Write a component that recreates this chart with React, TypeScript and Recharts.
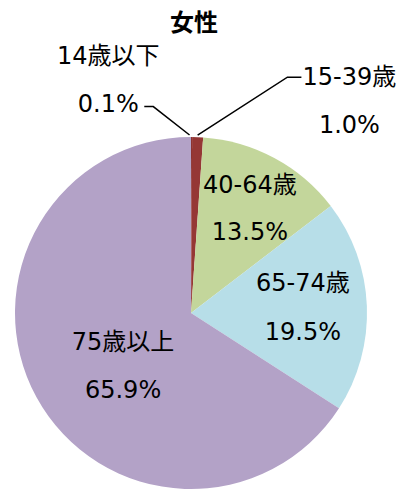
import { PieChart, Pie, Cell } from "recharts";

const ageGroups = ["14歳以下", "15-39歳", "40-64歳", "65-74歳", "75歳以上"];
const shares = [0.1, 1.0, 13.5, 19.5, 65.9];
const sliceColors = ["#8c3331", "#953735", "#c3d69b", "#b7dee8", "#b3a2c7"];

const data = ageGroups.map((name, i) => ({ name, value: shares[i] }));

// label centres, as fractions of the radius from the pie centre: [dx, dyName, dyValue]
const labelSpots = [
  [-0.47, -1.46, -1.19],
  [0.9, -1.34, -1.07],
  [0.335, -0.727, -0.46],
  [0.636, -0.17, 0.108],
  [-0.386, 0.165, 0.4375],
];

const FONT = "'DejaVu Sans', 'Noto Sans CJK JP', sans-serif";
const RAD = Math.PI / 180;

// eslint-disable-next-line @typescript-eslint/no-explicit-any
function renderLabel(props: any) {
  const { cx, cy, outerRadius, midAngle, index, name, value } = props;
  const [dx, dyN, dyV] = labelSpots[index];
  const x = cx + dx * outerRadius;
  const yName = cy + dyN * outerRadius;
  const yVal = cy + dyV * outerRadius;
  const tipX = cx + outerRadius * Math.cos(-midAngle * RAD);
  const tipY = cy + outerRadius * Math.sin(-midAngle * RAD);

  let leader = null;
  if (index === 0) {
    const sx = x + 36;
    const pts = `${sx},${yVal + 3} ${sx + 9},${yVal + 3} ${tipX - 2},${tipY - 2}`;
    leader = <polyline points={pts} fill="none" stroke="#000" strokeWidth={1.5} />;
  } else if (index === 1) {
    const sx = x - 48;
    const pts = `${sx},${yName} ${sx - 14},${yName} ${tipX},${tipY - 2}`;
    leader = <polyline points={pts} fill="none" stroke="#000" strokeWidth={1.5} />;
  }

  return (
    <g>
      {leader}
      <text x={x} y={yName} textAnchor="middle" dominantBaseline="central" fontSize={24} fontFamily={FONT} fill="#000">
        {name}
      </text>
      <text x={x} y={yVal} textAnchor="middle" dominantBaseline="central" fontSize={24} fontFamily={FONT} fill="#000">
        {value.toFixed(1)}%
      </text>
    </g>
  );
}

export default function App() {
  return (
    <div style={{ position: "absolute", left: 0, top: 0, width: 408, height: 490, background: "#fff" }}>
      <div
        style={{
          position: "absolute",
          left: 0,
          top: 6,
          width: 388,
          textAlign: "center",
          fontFamily: "'Noto Sans CJK JP', sans-serif",
          fontWeight: "bold",
          fontSize: 24,
          lineHeight: "30px",
          color: "#000",
        }}
      >
        女性
      </div>
      <PieChart width={408} height={490}>
        <Pie
          data={data}
          dataKey="value"
          nameKey="name"
          cx={186}
          cy={308}
          outerRadius={176}
          startAngle={90}
          endAngle={-270}
          stroke="none"
          label={renderLabel}
          labelLine={false}
          isAnimationActive={false}
        >
          {data.map((d, i) => (
            <Cell key={d.name} fill={sliceColors[i]} />
          ))}
        </Pie>
      </PieChart>
    </div>
  );
}
